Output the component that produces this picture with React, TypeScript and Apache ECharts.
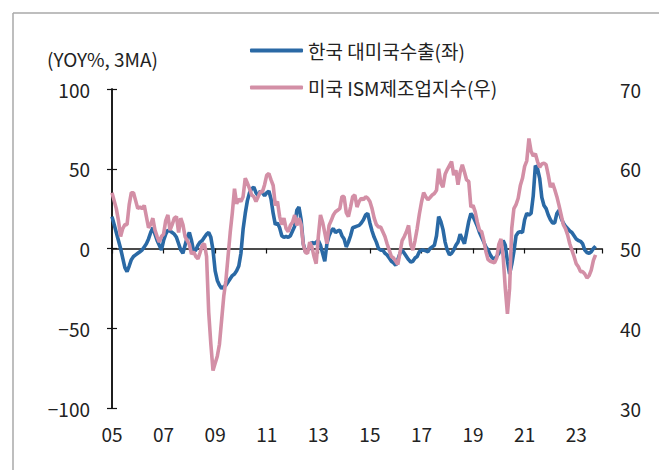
import React, { useEffect, useRef } from "react";
import * as echarts from "echarts";

// Monthly data starting 2005-01 (index 0)
const koreaExportsToUS: number[] = [
  20, 15, 10, 5, 0, -6, -12, -14.5, -11, -7,
  -5, -4, -3, -2, -1, 1, 3, 6, 10, 13,
  9, 5, 2, -1, 5, 9, 11.5, 11, 10, 9,
  7, 3, -1, -3, 2, 7, 10, 5, -2, -1,
  2, 4, 5, 7, 9, 10, 7, -1, -14, -20,
  -23, -25, -24, -23, -21, -19, -17, -16, -14, -11,
  -3, 12, 22, 30, 35, 37.5, 38.5, 35, 33, 36,
  35, 33, 35, 36, 31, 22, 15, 16, 13, 8,
  7, 7.5, 7, 8, 11, 14, 24, 26, 18, 3,
  -2, -1, 0, 4, 3, 4, 5, 2, -3, -8,
  3, 8, 11, 12.5, 10, 11, 11.5, 8, 6, 1,
  4, 8, 13, 13.5, 14, 14.5, 16, 18, 21, 22,
  16, 11, 7, 4, 0, -1, -1, -3, -4, -6,
  -8, -9, -10.5, -7, -3, -1, -3, -5, -7, -8.5,
  -8, -6, -5, -2, -1, -1, -1.5, -2, 0, 1,
  2, 8, 20, 17, 12, 4, -1, -4, -3, -1,
  2, 4, 9, 6, 3, 10, 17, 22, 20, 17,
  14, 10, 7, 4, 1, -1, -4, -6, -6.5, -5,
  -3, 0, 5, 2, -8, -16, -10, -2, 8, 10,
  10.5, 10, 18, 22, 21, 22, 33, 52, 50, 44,
  32, 27, 25, 21, 18, 16, 16, 22, 24, 19,
  16, 14, 12.5, 11, 10, 8, 6, 5, 4.5, 3,
  -1, -2.5, -3, -2, 0, 1.5,
];

const usIsmPmi: number[] = [
  57, 56, 55, 53.5, 51.5, 52.5, 53, 53, 55.5, 57,
  57, 56, 55, 55.2, 55, 55.4, 54, 52.6, 53, 53.8,
  52.3, 51.5, 50.8, 51.5, 51.8, 53.5, 54.2, 52.3, 53, 53.8,
  54, 52, 53.8, 53, 51.5, 51, 50.5, 49.3, 49.6, 49,
  48.7, 49.5, 50.4, 50.6, 49, 42, 38, 34.7, 35.6, 36.5,
  38, 41, 44, 46, 49, 52, 54.5, 57.5, 55.6, 56.2,
  55.9, 56.5, 58.8, 58.2, 57.5, 56.7, 56.5, 55.9, 56.5, 57.1,
  57.1, 58, 59.2, 59.4, 58.6, 57.9, 55.4, 55.9, 54, 53,
  53.8, 52.5, 52.1, 52.9, 53.3, 54.2, 52.9, 53.8, 53, 50.5,
  49.5, 49.4, 50.8, 50.2, 49, 48.1, 51.5, 54.2, 53.3, 52,
  50.6, 52.9, 53.5, 54.2, 54.6, 54.8, 55, 56.5, 56.5, 54.5,
  54, 55.2, 56.5, 56.7, 55.2, 55.9, 56.3, 56.1, 56.5, 56.3,
  55.9, 55, 53.8, 53, 52.7, 52.7, 52.1, 51.5, 50.6, 49.8,
  49, 48.8, 48.4, 48, 49.5, 51, 51.5, 52.1, 52.9, 50.5,
  49.8, 51, 52.5, 54.3, 55.8, 57, 56.5, 56.1, 56.4, 56.7,
  56.9, 57.3, 60, 58.2, 57.7, 59.3, 59.9, 60.4, 60.9, 59.2,
  59.8, 58, 59.6, 60.5, 59.6, 58.6, 58.4, 55.2, 55.4, 54.6,
  53.3, 52.3, 52.1, 51, 49.6, 48.6, 48.4, 48.3, 48.2, 48.8,
  50.5, 51.2, 49, 45, 41.8, 45, 52.5, 55, 55.5, 56.3,
  57.9, 58.8, 60.3, 61, 63.8, 62.2, 61.6, 61.9, 60.9, 60.2,
  60.6, 60.7, 60.5, 59.2, 57.7, 58.2, 57.4, 56.5, 55.4, 54.2,
  53, 52.5, 51.7, 50.6, 49.8, 49, 48.1, 47.7, 47.1, 47.1,
  46.8, 46.3, 46.6, 47.3, 48.5, 49.2,
];

const seriesNames = ["한국 대미국수출(좌)", "미국 ISM제조업지수(우)"];
const leftAxisName = "(YOY%, 3MA)";
const firstYear = 5; // 2005

export default function App() {
  const ref = useRef<HTMLDivElement>(null);

  useEffect(() => {
    if (!ref.current) return;
    const chart = echarts.init(ref.current, null, { renderer: "svg" });
    const font = '"Noto Sans CJK KR", "Noto Sans", sans-serif';
    const textColor = "#222";
    const fontSize = 19;
    const blue = "#2A69A5";
    const pink = "#D38FA6";

    const blueData = koreaExportsToUS.map((v, i) => [i, v]);
    const pinkData = usIsmPmi.map((v, i) => [i, v]);

    chart.setOption({
      animation: false,
      backgroundColor: "#ffffff",
      textStyle: { fontFamily: font },
      grid: { left: 112, right: 57, top: 89, bottom: 62, containLabel: false },
      legend: {
        orient: "vertical",
        left: 245,
        top: 35,
        itemWidth: 53,
        itemHeight: 4,
        itemGap: 16,
        icon: "roundRect",
        textStyle: { fontSize, color: textColor, fontFamily: font, lineHeight: 21 },
        data: seriesNames,
      },
      graphic: [
        {
          type: "line",
          shape: { x1: 13, y1: 13, x2: 659, y2: 13 },
          style: { stroke: "#a8a8a8", lineWidth: 1.5 },
        },
        {
          type: "line",
          shape: { x1: 13, y1: 13, x2: 13, y2: 470 },
          style: { stroke: "#a8a8a8", lineWidth: 1.5 },
        },
        {
          type: "text",
          left: 47,
          top: 49,
          style: { text: leftAxisName, fontSize, fill: textColor, fontFamily: font },
        },
      ],
      xAxis: [
        {
          type: "value",
          min: 0,
          max: 228,
          interval: 24,
          position: "bottom",
          axisLine: { show: false, onZero: false },
          axisTick: { show: false },
          splitLine: { show: false },
          axisLabel: {
            margin: 16,
            fontSize,
            color: textColor,
            fontFamily: font,
            formatter: (v: number) =>
              v >= 228 ? "" : String(firstYear + v / 12).padStart(2, "0"),
          },
        },
        {
          type: "value",
          min: 0,
          max: 228,
          interval: 24,
          position: "bottom",
          axisLine: {
            show: true,
            onZero: true,
            onZeroAxisIndex: 0,
            lineStyle: { color: "#111", width: 1.5 },
          },
          axisTick: { show: true, length: 5, lineStyle: { color: "#111", width: 1.2 } },
          axisLabel: { show: false },
          splitLine: { show: false },
        },
      ],
      yAxis: [
        {
          type: "value",
          min: -100,
          max: 100,
          interval: 50,
          position: "left",
          axisLine: { show: true, lineStyle: { color: "#111", width: 1.5 } },
          axisTick: { show: true, length: 5, lineStyle: { color: "#111", width: 1.2 } },
          splitLine: { show: false },
          axisLabel: {
            margin: 22,
            fontSize,
            color: textColor,
            fontFamily: font,
            formatter: (v: number) => String(v).replace("-", "\u2212"),
          },
        },
        {
          type: "value",
          min: 30,
          max: 70,
          interval: 10,
          position: "right",
          axisLine: { show: true, lineStyle: { color: "#111", width: 1.5 } },
          axisTick: { show: true, length: 5, lineStyle: { color: "#111", width: 1.2 } },
          splitLine: { show: false },
          axisLabel: { margin: 18, fontSize, color: textColor, fontFamily: font },
        },
      ],
      series: [
        {
          name: seriesNames[0],
          type: "line",
          data: blueData,
          xAxisIndex: 0,
          yAxisIndex: 0,
          symbol: "none",
          showSymbol: false,
          lineStyle: { color: blue, width: 3.6 },
          itemStyle: { color: blue },
          z: 3,
        },
        {
          name: seriesNames[1],
          type: "line",
          data: pinkData,
          xAxisIndex: 0,
          yAxisIndex: 1,
          symbol: "none",
          showSymbol: false,
          lineStyle: { color: pink, width: 3.6 },
          itemStyle: { color: pink },
          z: 4,
        },
      ],
    });

    return () => chart.dispose();
  }, []);

  return (
    <div
      ref={ref}
      style={{ position: "fixed", left: 0, top: 0, width: 659, height: 470, background: "#fff" }}
    />
  );
}
